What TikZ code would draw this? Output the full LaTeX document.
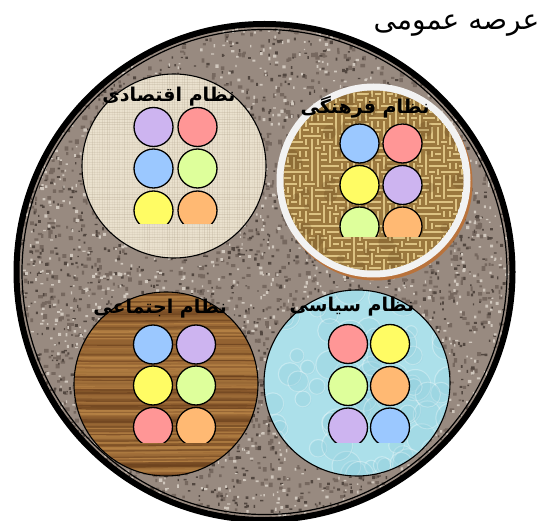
\documentclass[tikz,border=0pt]{standalone}
\usepackage{fontspec}
\newfontfamily\fa[Script=Arabic]{DejaVu Sans}
\TeXXeTstate=1
\definecolor{granite}{RGB}{152,138,128}
\definecolor{gdark}{RGB}{82,71,64}
\definecolor{glight}{RGB}{208,199,189}
\definecolor{gmid}{RGB}{118,104,95}
\definecolor{linen}{RGB}{234,225,206}
\definecolor{linenline}{RGB}{185,172,150}
\definecolor{burlap}{RGB}{155,120,62}
\definecolor{burlaplight}{RGB}{232,207,142}
\definecolor{burlapdark}{RGB}{100,68,28}
\definecolor{wooddark}{RGB}{98,58,25}
\definecolor{woodlight}{RGB}{192,140,75}
\definecolor{woodbase}{RGB}{150,98,50}
\definecolor{water}{RGB}{172,224,234}
\definecolor{waterdark}{RGB}{145,205,220}
\definecolor{shadowbrown}{RGB}{185,115,60}
\definecolor{ringwhite}{RGB}{242,242,242}
\definecolor{dpu}{RGB}{205,180,240}
\definecolor{dpk}{RGB}{255,150,150}
\definecolor{dbl}{RGB}{155,200,255}
\definecolor{dgr}{RGB}{222,255,155}
\definecolor{dye}{RGB}{255,252,100}
\definecolor{dor}{RGB}{255,185,115}
\tikzset{
  dotc/.style={draw=black, line width=1.3pt},
  lbl/.style={font=\fa\bfseries\fontsize{19}{22}\selectfont, inner sep=0pt},
  ttl/.style={font=\fa\fontsize{28}{32}\selectfont, inner sep=0pt},
  rim/.style={draw=black, line width=1.1pt}
}
\begin{document}
\begin{tikzpicture}[x=1pt,y=-1pt]
\useasboundingbox (0,0) rectangle (549,521);
\coordinate (C) at (264.5,272);
\coordinate (E) at (174,166);
\coordinate (K) at (373.5,180.5);
\coordinate (Ksh) at (375.5,183.5);
\coordinate (S) at (166,384);
\coordinate (P) at (357,383);
\pgfmathsetseed{4242}
% big granite disc
\begin{scope}
\clip (C) circle[radius=246pt];
\fill[granite] (C) circle[radius=246pt];
\fill[gmid] \foreach \i in {1,...,2000}{({14+rnd*502},{20+rnd*505}) rectangle ++({1.8+rnd*3},{1.8+rnd*3})};
\fill[gdark] \foreach \i in {1,...,1900}{({14+rnd*502},{20+rnd*505}) rectangle ++({1.2+rnd*2.2},{1.2+rnd*2.2})};
\fill[glight] \foreach \i in {1,...,1900}{({14+rnd*502},{20+rnd*505}) rectangle ++({1.2+rnd*2.2},{1.2+rnd*2.2})};
\end{scope}
\draw[line width=6pt] (C) circle[radius=248pt];
\draw[line width=1.2pt] (C) circle[radius=242.5pt];
% economic (linen)
\begin{scope}
\clip (E) circle[radius=92pt];
\fill[linen] (E) circle[radius=92pt];
\foreach \x in {82,84.5,...,267}{
  \pgfmathsetmacro\o{0.08+rnd*0.3}
  \draw[linenline, line width=0.7pt, opacity=\o] (\x,70) -- (\x,262);
}
\foreach \y in {72,74.5,...,260}{
  \pgfmathsetmacro\o{0.08+rnd*0.3}
  \draw[linenline, line width=0.7pt, opacity=\o] (80,\y) -- (268,\y);
}
\end{scope}
\draw[rim] (E) circle[radius=92pt];
% cultural (burlap)
\fill[shadowbrown] (Ksh) circle[radius=97pt];
\fill[ringwhite] (K) circle[radius=97pt];
\begin{scope}
\clip (K) circle[radius=90pt];
\fill[burlap] (K) circle[radius=90pt];
\draw[burlaplight, line width=2pt, opacity=0.85]
  \foreach \x in {282,288,...,468}{
    \foreach \y [evaluate=\y as \k using {int(rnd*2)}] in {88,94,...,274}{
      ({\x-3*\k},{\y-3+3*\k}) -- ({\x+3*\k},{\y+3-3*\k})
    }
  };
\fill[burlapdark, opacity=0.22] \foreach \i in {1,...,70}{({283+rnd*182},{90+rnd*182}) circle[radius={2+rnd*6}]};
\end{scope}
% social (wood)
\begin{scope}
\clip (S) circle[radius=92pt];
\fill[woodbase] (S) circle[radius=92pt];
\foreach \y in {292,293.6,...,478}{
  \pgfmathsetmacro\t{rnd*100}
  \pgfmathsetmacro\w{0.8+rnd*1.6}
  \draw[woodlight!\t!wooddark, line width=\w pt, opacity=0.75] (70,\y) .. controls (140,\y+1.5) and (200,\y-1.5) .. (262,\y);
}
\end{scope}
\draw[rim] (S) circle[radius=92pt];
% political (water)
\begin{scope}
\clip (P) circle[radius=93pt];
\fill[water] (P) circle[radius=93pt];
\foreach \i in {1,...,80}{
  \pgfmathsetmacro\px{262+rnd*190}
  \pgfmathsetmacro\py{288+rnd*190}
  \pgfmathsetmacro\rr{6+rnd*10}
  \fill[waterdark, opacity=0.3] (\px,\py) circle[radius=\rr pt];
  \draw[white, line width=1pt, opacity=0.3] (\px-0.8,\py-0.8) circle[radius=\rr pt];
}
\end{scope}
\draw[rim] (P) circle[radius=93pt];
% dots
\begin{scope}
\clip (125,100) rectangle (230,224);
\foreach \c/\x/\y in {dpu/153.5/127, dpk/197.5/127, dbl/153.5/168.5, dgr/197.5/168.5, dye/153.5/210.5, dor/197.5/210.5}
  \filldraw[fill=\c, dotc] (\x,\y) circle[radius=19.5pt];
\end{scope}
\begin{scope}
\clip (330,115) rectangle (435,237);
\foreach \c/\x/\y in {dbl/359.5/143.5, dpk/402.5/143.5, dye/359.5/185, dpu/402.5/185, dgr/359.5/226.5, dor/402.5/226.5}
  \filldraw[fill=\c, dotc] (\x,\y) circle[radius=19.5pt];
\end{scope}
\begin{scope}
\clip (125,315) rectangle (230,442);
\foreach \c/\x/\y in {dbl/153/344.5, dpu/196/344.5, dye/153/385.5, dgr/196/385.5, dpk/153/427, dor/196/427}
  \filldraw[fill=\c, dotc] (\x,\y) circle[radius=19.5pt];
\end{scope}
\begin{scope}
\clip (320,315) rectangle (420,442);
\foreach \c/\x/\y in {dpk/348/344, dye/390/344, dgr/348/386, dor/390/386, dpu/348/427.5, dbl/390/427.5}
  \filldraw[fill=\c, dotc] (\x,\y) circle[radius=19.5pt];
\end{scope}
% labels
\node[lbl] (econ) at (169,97) {\beginR نظام اقتصادی\endR};
\node[lbl] (cult) at (365,107) {\beginR نظام فرهنگی\endR};
\node[lbl] (soc) at (160,309) {\beginR نظام اجتماعی\endR};
\node[lbl] (pol) at (352,307) {\beginR نظام سیاسی\endR};
\node[ttl] (arena) at (456.5,26) {\beginR عرصه عمومی\endR};
\end{tikzpicture}
\end{document}
